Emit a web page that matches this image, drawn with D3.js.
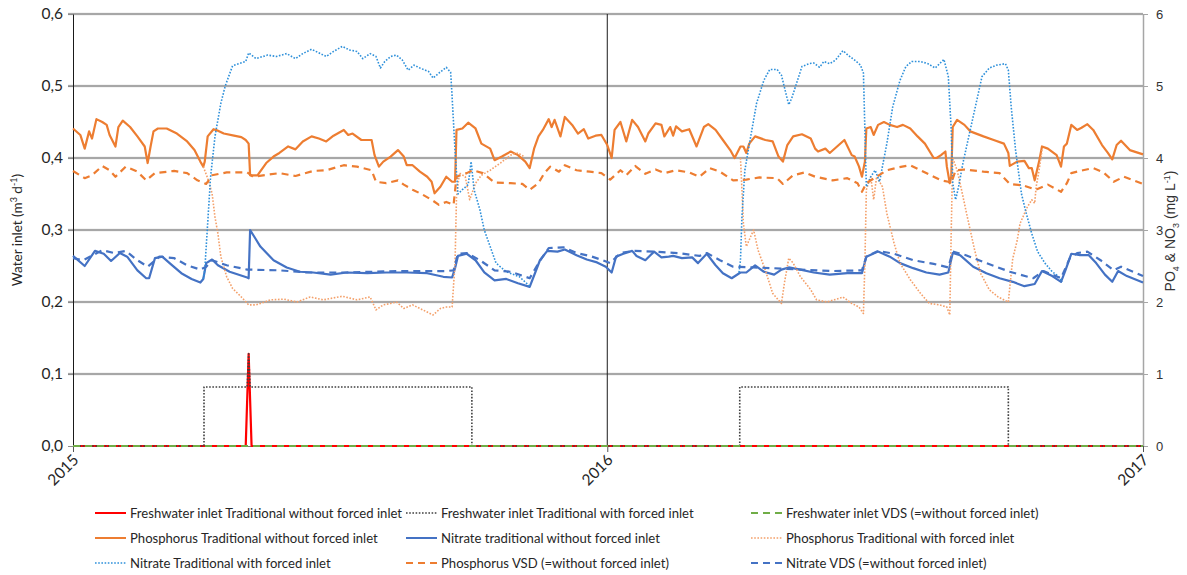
<!DOCTYPE html>
<html>
<head>
<meta charset="utf-8">
<script src="https://cdn.jsdelivr.net/npm/d3@7"></script>
<style>
  body { margin: 0; background: #fff; }
  svg { display: block; }
</style>
</head>
<body>
<svg id="chart" width="1187" height="575"></svg>
<script>
// Each series is a list of [day since 1 Jan 2015, value].
// Freshwater inlet (m3 d-1), left axis
const freshTradNoInlet = [[0, 0], [118, 0], [120, 0.128], [122, 0], [731, 0]];
const freshTradInlet = [[0, 0], [89.5, 0], [89.5, 0.082], [119, 0.082], [120, 0.128], [121, 0.082],
  [272.5, 0.082], [272.5, 0], [455.5, 0], [455.5, 0.082], [639, 0.082], [639, 0], [731, 0]];
const freshVDS = [[0, 0], [731, 0]];

// Phosphorus, traditional without forced inlet (mg L-1), right axis
const phosTradNoInlet = [[0,4.41],[5,4.32],[8,4.13],[11,4.37],[13,4.27],[16,4.54],[20,4.50],[23,4.46],[25,4.32],[29,4.16],
  [31,4.43],[34,4.52],[39,4.43],[44,4.30],[49,4.16],[51,3.93],[53,4.16],[55,4.37],[58,4.41],[64,4.41],[71,4.34],[78,4.23],
  [83,4.11],[87,3.95],[89,3.88],[90,3.95],[92,4.30],[96,4.40],[99,4.38],[103,4.34],[110,4.31],[115,4.29],[118,4.25],[120,4.20],
  [121,3.76],[126,3.76],[132,3.93],[137,4.02],[141,4.07],[147,4.16],[152,4.12],[157,4.23],[163,4.30],[168,4.27],[173,4.23],
  [178,4.31],[185,4.39],[188,4.32],[191,4.34],[197,4.25],[204,4.25],[206,4.04],[209,3.88],[212,3.95],[217,4.02],[222,4.11],
  [226,4.02],[228,3.90],[232,3.90],[237,3.81],[242,3.74],[245,3.67],[247,3.51],[251,3.60],[255,3.74],[259,3.67],[261,3.67],
  [262,4.39],[266,4.41],[270,4.49],[275,4.41],[279,4.20],[285,4.13],[288,3.97],[293,4.02],[299,4.09],[304,4.04],[309,3.95],
  [312,3.86],[315,4.13],[318,4.30],[321,4.39],[325,4.54],[327,4.43],[329,4.53],[333,4.30],[336,4.57],[341,4.46],[345,4.34],
  [349,4.40],[352,4.27],[357,4.31],[361,4.32],[365,4.18],[368,4.00],[370,4.39],[374,4.50],[378,4.23],[382,4.53],[386,4.43],
  [391,4.23],[393,4.34],[398,4.48],[402,4.46],[404,4.30],[408,4.43],[410,4.31],[412,4.44],[416,4.37],[421,4.40],[426,4.16],
  [431,4.43],[434,4.47],[439,4.39],[444,4.25],[449,4.11],[452,4.00],[456,4.16],[458,4.16],[460,4.07],[462,4.20],[466,4.30],
  [473,4.25],[478,4.23],[482,4.02],[485,3.95],[488,4.18],[492,4.30],[498,4.33],[504,4.27],[507,4.13],[509,4.09],[514,4.13],
  [517,4.07],[522,4.16],[527,4.25],[532,4.04],[534,4.02],[537,3.88],[539,3.74],[541,3.95],[542,4.41],[545,4.43],[547,4.32],
  [550,4.46],[554,4.50],[558,4.46],[563,4.43],[567,4.46],[572,4.41],[577,4.30],[582,4.20],[588,4.00],[590,4.00],[593,4.04],
  [596,4.09],[597,3.88],[599,3.65],[600,3.74],[601,4.43],[604,4.53],[609,4.46],[613,4.37],[622,4.30],[629,4.25],[636,4.20],
  [639,4.07],[640,3.89],[645,3.95],[650,3.96],[653,3.86],[655,3.86],[657,3.69],[660,3.95],[662,4.16],[666,4.13],[672,4.04],
  [675,3.88],[677,4.16],[679,4.20],[682,4.46],[686,4.39],[689,4.42],[693,4.47],[697,4.39],[703,4.18],[707,4.07],[710,3.98],
  [713,4.18],[716,4.24],[722,4.11],[731,4.05]];

// Nitrate, traditional without forced inlet
const nitrTradNoInlet = [[0,2.64],[8,2.50],[15,2.71],[21,2.67],[26,2.57],[32,2.68],[37,2.63],[44,2.44],[50,2.33],[52,2.33],
  [56,2.61],[61,2.63],[66,2.54],[74,2.40],[81,2.32],[87,2.27],[89,2.32],[91,2.54],[95,2.59],[99,2.51],[107,2.42],[119,2.34],
  [120,2.33],[121,3.00],[128,2.77],[137,2.58],[146,2.48],[155,2.42],[164,2.41],[176,2.38],[187,2.41],[201,2.40],[214,2.41],
  [228,2.41],[242,2.40],[253,2.35],[259,2.34],[261,2.47],[263,2.64],[269,2.67],[275,2.58],[281,2.41],[288,2.30],[296,2.32],
  [304,2.26],[312,2.21],[316,2.42],[319,2.58],[324,2.71],[331,2.70],[336,2.73],[344,2.65],[351,2.59],[358,2.55],[364,2.49],
  [368,2.41],[371,2.63],[376,2.67],[382,2.71],[385,2.64],[391,2.58],[397,2.70],[402,2.62],[407,2.63],[410,2.64],[416,2.61],
  [423,2.62],[427,2.54],[433,2.67],[439,2.51],[444,2.40],[450,2.33],[456,2.41],[460,2.41],[466,2.51],[472,2.42],[479,2.38],
  [484,2.45],[489,2.48],[497,2.45],[506,2.41],[517,2.38],[529,2.40],[539,2.40],[542,2.63],[550,2.70],[558,2.63],[565,2.54],
  [574,2.47],[583,2.41],[592,2.38],[598,2.41],[601,2.68],[606,2.65],[615,2.49],[624,2.40],[633,2.33],[642,2.28],[650,2.22],
  [657,2.25],[662,2.43],[669,2.36],[675,2.28],[678,2.44],[682,2.67],[688,2.65],[694,2.65],[699,2.54],[705,2.38],[710,2.28],
  [714,2.43],[720,2.36],[731,2.27]];

// Phosphorus, traditional with forced inlet (only where it leaves the run without inlet)
const phosTradInlet = [
  [[89,3.88],[92,3.72],[95,3.51],[97,3.18],[99,2.95],[101,2.63],[105,2.35],[109,2.19],[115,2.07],[120,1.96],[125,1.96],
   [128,1.98],[135,2.03],[144,2.04],[153,2.00],[162,2.07],[171,2.03],[184,2.08],[194,2.03],[203,2.07],[207,1.89],[212,1.96],
   [217,1.98],[221,2.00],[226,1.91],[232,1.96],[239,1.89],[246,1.82],[251,1.91],[255,1.93],[259,1.93],[261,2.54],[262,3.46],
   [264,3.79],[268,3.74],[271,3.42],[275,3.65],[279,3.76],[285,3.83],[292,3.93],[299,4.04],[304,4.07],[308,4.02]],
  [[456,4.00],[457,3.56],[458,3.09],[460,2.77],[463,2.91],[465,3.00],[468,2.72],[473,2.44],[478,2.12],[484,1.98],[486,2.26],
   [489,2.61],[492,2.54],[497,2.35],[504,2.17],[508,2.03],[515,2.00],[520,2.03],[526,2.07],[532,1.98],[537,1.93],[540,1.84],
   [541,2.54],[542,3.56],[545,3.74],[547,3.42],[549,3.74],[553,3.60],[556,3.23],[561,2.81],[565,2.54],[572,2.31],[579,2.12],
   [585,1.98],[592,1.96],[597,1.93],[599,1.82],[600,3.00],[601,4.00],[604,3.83],[607,3.56],[611,3.18],[616,2.72],[620,2.40],
   [626,2.17],[632,2.07],[637,2.02],[639,2.00],[640,2.21],[642,2.60],[645,2.85],[647,3.09],[652,3.32],[655,3.42],[657,3.37],
   [658,3.60],[660,3.83],[662,4.11]]
];

// Nitrate, traditional with forced inlet (only where it leaves the run without inlet)
const nitrTradInlet = [
  [[89,2.32],[90,2.44],[92,3.09],[94,3.74],[97,4.30],[101,4.76],[104,5.00],[109,5.28],[118,5.34],[120,5.46],[125,5.38],
   [133,5.43],[139,5.41],[146,5.45],[152,5.38],[157,5.45],[163,5.51],[169,5.45],[173,5.41],[178,5.48],[184,5.55],[189,5.50],
   [194,5.48],[198,5.38],[203,5.45],[207,5.41],[210,5.25],[213,5.34],[217,5.41],[221,5.43],[225,5.36],[229,5.22],[233,5.29],
   [237,5.25],[243,5.20],[246,5.11],[250,5.18],[255,5.26],[258,5.19],[259,4.85],[261,4.10],[263,3.50],[266,3.56],[270,3.63],
   [272,3.95],[274,3.56],[278,3.28],[281,3.00],[285,2.77],[289,2.54],[296,2.42],[305,2.35],[312,2.22]],
  [[455,2.41],[456,2.58],[457,3.18],[459,3.83],[463,4.30],[467,4.76],[472,5.08],[476,5.23],[481,5.23],[484,5.15],[487,4.90],
   [489,4.74],[491,4.83],[495,5.08],[498,5.27],[503,5.31],[506,5.32],[510,5.26],[513,5.34],[517,5.31],[521,5.36],[526,5.49],
   [530,5.42],[534,5.36],[538,5.29],[540,5.18],[541,4.39],[542,3.60],[545,3.74],[548,3.83],[551,3.67],[556,4.20],[560,4.71],
   [565,5.08],[569,5.27],[573,5.34],[579,5.34],[584,5.31],[589,5.25],[592,5.31],[595,5.37],[598,5.13],[600,4.39],[601,3.65],
   [603,3.42],[605,3.60],[608,3.93],[612,4.30],[617,4.76],[621,5.13],[626,5.25],[631,5.29],[637,5.31],[639,5.22],[641,4.70],
   [644,4.10],[648,3.50],[651,3.25],[655,2.95],[659,2.70],[664,2.54],[669,2.42],[673,2.36],[676,2.28]]
];

// Phosphorus, VSD (= without forced inlet)
const phosVSD = [[0,3.82],[8,3.72],[13,3.76],[20,3.89],[25,3.83],[29,3.74],[36,3.88],[44,3.81],[50,3.69],[56,3.79],
  [69,3.82],[78,3.79],[85,3.69],[91,3.64],[95,3.76],[105,3.80],[119,3.80],[123,3.74],[141,3.79],[152,3.75],[164,3.82],
  [173,3.83],[185,3.90],[194,3.88],[204,3.83],[207,3.67],[214,3.65],[222,3.69],[226,3.63],[232,3.56],[239,3.49],[245,3.42],
  [250,3.35],[255,3.39],[260,3.35],[262,3.74],[269,3.79],[273,3.83],[280,3.79],[288,3.66],[299,3.65],[307,3.64],[312,3.56],
  [318,3.65],[322,3.79],[326,3.88],[332,3.81],[336,3.90],[344,3.83],[353,3.81],[361,3.79],[367,3.70],[374,3.83],[378,3.76],
  [384,3.89],[391,3.78],[398,3.84],[404,3.79],[412,3.83],[421,3.80],[428,3.74],[435,3.86],[442,3.81],[451,3.69],[460,3.70],
  [469,3.73],[481,3.72],[485,3.64],[492,3.76],[500,3.80],[507,3.74],[519,3.69],[529,3.72],[536,3.65],[539,3.53],[542,3.65],
  [549,3.74],[556,3.83],[564,3.87],[572,3.90],[580,3.82],[588,3.74],[593,3.69],[598,3.67],[600,3.65],[603,3.83],[609,3.84],
  [622,3.81],[633,3.79],[640,3.64],[649,3.62],[658,3.56],[666,3.63],[675,3.53],[679,3.65],[682,3.79],[690,3.83],[697,3.86],
  [704,3.80],[711,3.67],[718,3.74],[731,3.64]];

// Nitrate, VDS (= without forced inlet)
const nitrVDS = [[0,2.61],[7,2.58],[20,2.72],[28,2.68],[36,2.71],[44,2.58],[51,2.49],[59,2.63],[69,2.61],[78,2.51],
  [87,2.45],[91,2.49],[95,2.58],[105,2.51],[119,2.45],[141,2.44],[160,2.41],[187,2.41],[221,2.43],[255,2.43],[260,2.44],
  [263,2.67],[269,2.68],[278,2.58],[288,2.44],[299,2.42],[312,2.33],[318,2.54],[325,2.75],[335,2.76],[344,2.68],[353,2.64],
  [362,2.58],[367,2.54],[374,2.68],[383,2.71],[397,2.70],[413,2.68],[428,2.64],[433,2.68],[442,2.58],[451,2.49],[465,2.48],
  [478,2.47],[497,2.45],[519,2.43],[539,2.44],[542,2.63],[550,2.71],[561,2.67],[574,2.58],[588,2.53],[598,2.48],[601,2.70],
  [610,2.65],[624,2.54],[640,2.42],[656,2.33],[663,2.43],[675,2.33],[681,2.61],[686,2.68],[693,2.70],[702,2.58],[711,2.44],
  [716,2.49],[731,2.36]];

const leftTicks = [0, 0.1, 0.2, 0.3, 0.4, 0.5, 0.6];
const rightTicks = [0, 1, 2, 3, 4, 5, 6];
const yearTicks = [2015, 2016, 2017];

const legendLabels = [
  "Freshwater inlet Traditional without forced inlet",
  "Freshwater inlet Traditional with forced inlet",
  "Freshwater inlet VDS (=without forced inlet)",
  "Phosphorus Traditional without forced inlet",
  "Nitrate traditional without forced inlet",
  "Phosphorus Traditional with forced inlet",
  "Nitrate Traditional with forced inlet",
  "Phosphorus VSD (=without forced inlet)",
  "Nitrate VDS (=without forced inlet)"
];

// ---- drawing ----
const svg = d3.select("#chart");
const L = 73, R = 1143, T = 14, B = 446;
const DAY = 864e5, T0 = Date.UTC(2015, 0, 1);
const toDate = d => new Date(T0 + d * DAY);

const x = d3.scaleUtc().domain([new Date(Date.UTC(2015, 0, 1)), new Date(Date.UTC(2017, 0, 1))]).range([L, R]);
const yL = d3.scaleLinear().domain([0, 0.6]).range([B, T]);
const yR = d3.scaleLinear().domain([0, 6]).range([B, T]);

const styles = {
  fresh:  { color: "#FF0000", width: 2.2, dash: null },
  freshF: { color: "#404040", width: 1.6, dash: "1.6,1.6" },
  freshV: { color: "#70AD47", width: 2.2, dash: "7,5" },
  phos:   { color: "#ED7D31", width: 2.2, dash: null },
  nitr:   { color: "#4472C4", width: 2.2, dash: null },
  phosF:  { color: "#F4A06A", width: 1.6, dash: "1.6,1.6" },
  nitrF:  { color: "#2E90DA", width: 1.6, dash: "1.6,1.6" },
  phosV:  { color: "#ED7D31", width: 2.2, dash: "7,5" },
  nitrV:  { color: "#4472C4", width: 2.2, dash: "7,5" }
};

// gridlines
const grid = svg.append("g");
leftTicks.filter(v => v > 0).forEach(v => {
  grid.append("line").attr("x1", L - 5).attr("x2", R).attr("y1", yL(v)).attr("y2", yL(v))
    .attr("stroke", "#d4d4d4").attr("stroke-width", 2.4);
  grid.append("line").attr("x1", L - 5).attr("x2", R).attr("y1", yL(v)).attr("y2", yL(v))
    .attr("stroke", "#7a7a7a").attr("stroke-width", 1);
});

// year separator
svg.append("line").attr("x1", x(new Date(Date.UTC(2016, 0, 1)))).attr("x2", x(new Date(Date.UTC(2016, 0, 1))))
  .attr("y1", T).attr("y2", B).attr("stroke", "#1a1a1a").attr("stroke-width", 1);

// left axis
const axL = svg.append("g").attr("transform", `translate(${L},0)`)
  .call(d3.axisLeft(yL).tickValues(leftTicks).tickSize(5).tickSizeOuter(0)
    .tickFormat(d => d3.format(".1f")(d).replace(".", ",")));
axL.select(".domain").attr("stroke", "#1a1a1a");
axL.selectAll(".tick line").attr("stroke", "#8c8c8c");
axL.selectAll(".tick text").attr("font-family", "Lato, 'Open Sans', sans-serif").attr("font-size", 15.5)
  .attr("fill", "#262626").attr("x", -10);

// right axis
const axR = svg.append("g").attr("transform", `translate(${R},0)`)
  .call(d3.axisRight(yR).tickValues(rightTicks).tickSize(5).tickSizeOuter(0).tickFormat(d3.format("d")));
axR.select(".domain").attr("stroke", "#a6a6a6").attr("stroke-width", 1.5);
axR.selectAll(".tick line").attr("stroke", "#a6a6a6");
axR.selectAll(".tick text").attr("font-family", "'Liberation Sans', Arial, sans-serif").attr("font-size", 13)
  .attr("fill", "#333").attr("x", 13);

// bottom axis
const axB = svg.append("g").attr("transform", `translate(0,${B})`)
  .call(d3.axisBottom(x).tickValues(yearTicks.map(y => new Date(Date.UTC(y, 0, 1))))
    .tickSize(6).tickSizeOuter(0).tickFormat(d3.utcFormat("%Y")));
axB.select(".domain").attr("stroke", "#7a7a7a");
axB.selectAll(".tick line").attr("stroke", "#555");
axB.selectAll(".tick text").attr("font-family", "Lato, 'Open Sans', sans-serif").attr("font-size", 15.5)
  .attr("fill", "#262626").attr("text-anchor", "end").attr("dy", null).attr("y", 0)
  .attr("transform", "translate(6,15) rotate(-45)");

// axis titles
const tL = svg.append("text").attr("transform", "translate(22,230) rotate(-90)")
  .attr("text-anchor", "middle").attr("font-family", "Lato, 'Open Sans', sans-serif")
  .attr("font-size", 13.5).attr("fill", "#262626");
tL.append("tspan").text("Water inlet (m");
tL.append("tspan").attr("dy", -5).attr("font-size", 9).text("3");
tL.append("tspan").attr("dy", 5).text(" d");
tL.append("tspan").attr("dy", -5).attr("font-size", 9).text("-1");
tL.append("tspan").attr("dy", 5).text(")");

const tR = svg.append("text").attr("transform", "translate(1175,231) rotate(-90)")
  .attr("text-anchor", "middle").attr("font-family", "'Liberation Sans', Arial, sans-serif")
  .attr("font-size", 14).attr("fill", "#333");
tR.append("tspan").text("PO");
tR.append("tspan").attr("dy", 4).attr("font-size", 9).text("4");
tR.append("tspan").attr("dy", -4).text(" & NO");
tR.append("tspan").attr("dy", 4).attr("font-size", 9).text("3");
tR.append("tspan").attr("dy", -4).text(" (mg L");
tR.append("tspan").attr("dy", -5).attr("font-size", 9).text("-1");
tR.append("tspan").attr("dy", 5).text(")");

// series
const lineL = d3.line().x(d => x(toDate(d[0]))).y(d => yL(d[1]));
const lineR = d3.line().x(d => x(toDate(d[0]))).y(d => yR(d[1]));
const plot = svg.append("g").attr("fill", "none").attr("stroke-linejoin", "round");

function draw(data, gen, s) {
  plot.append("path").datum(data).attr("d", gen)
    .attr("stroke", s.color).attr("stroke-width", s.width)
    .attr("stroke-dasharray", s.dash);
}

draw(freshTradNoInlet, lineL, styles.fresh);
draw(freshTradInlet, lineL, styles.freshF);
draw(freshVDS, lineL, styles.freshV);
draw(phosTradNoInlet, lineR, styles.phos);
draw(nitrTradNoInlet, lineR, styles.nitr);
phosTradInlet.forEach(seg => draw(seg, lineR, styles.phosF));
nitrTradInlet.forEach(seg => draw(seg, lineR, styles.nitrF));
draw(phosVSD, lineR, styles.phosV);
draw(nitrVDS, lineR, styles.nitrV);

// legend: three columns, three rows
const legendStyles = [styles.fresh, styles.freshF, styles.freshV, styles.phos, styles.nitr, styles.phosF,
  styles.nitrF, styles.phosV, styles.nitrV];
const colX = [95, 406, 751];
const rowY = [513, 538, 563];
const lg = svg.append("g");
legendLabels.forEach((label, i) => {
  const cx = colX[i % 3], cy = rowY[Math.floor(i / 3)];
  const s = legendStyles[i];
  lg.append("line").attr("x1", cx).attr("x2", cx + 31).attr("y1", cy).attr("y2", cy)
    .attr("stroke", s.color).attr("stroke-width", s.width * 0.9).attr("stroke-dasharray", s.dash);
  lg.append("text").attr("x", cx + 35).attr("y", cy).attr("dy", "0.35em")
    .attr("font-family", "Lato, 'Open Sans', sans-serif").attr("font-size", 13.1).attr("fill", "#262626")
    .text(label);
});
</script>
</body>
</html>
